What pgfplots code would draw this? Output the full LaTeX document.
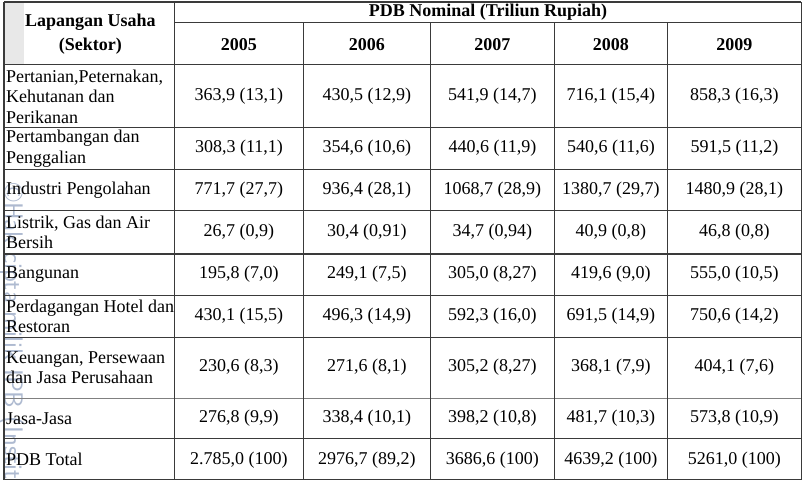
\documentclass[border=0pt]{standalone}
\usepackage{fontspec}
\setmainfont{Liberation Serif}
\usepackage{pgfplots}
\pgfplotsset{compat=1.18}
\definecolor{rule}{HTML}{3A3A3A}
\definecolor{wmark}{HTML}{AEBAD0}
\pgfplotsset{tline/.style={color=rule,line width=1.1pt,mark=none,forget plot}}

\begin{document}
\begin{tikzpicture}
\begin{axis}[
  width=802bp,height=480bp,scale only axis,
  xmin=0,xmax=802,ymin=0,ymax=480,y dir=reverse,
  hide axis,clip=false,
]
% header shade behind watermark
\fill[black!9] (axis cs:4,2) rectangle (axis cs:24,64);
% watermark, cut at the left edge
\begin{scope}
\clip (axis cs:0,0) rectangle (axis cs:40,480);
\node[rotate=-90,anchor=east,font=\sffamily\fontsize{26.5}{26.5}\selectfont,text=wmark,inner sep=0pt]
  at (axis cs:11,478) {\textcopyright Hak cipta milik IPB (Instit};
\end{scope}
% horizontal rules
\addplot[tline] coordinates {(4,2) (798,2)};
\addplot[tline] coordinates {(174,22) (798,22)};
\addplot[tline] coordinates {(4,64) (798,64)};
\addplot[tline] coordinates {(4,127) (798,127)};
\addplot[tline] coordinates {(4,169) (798,169)};
\addplot[tline] coordinates {(4,210) (798,210)};
\addplot[tline] coordinates {(4,253) (798,253)};
\addplot[tline] coordinates {(4,294) (798,294)};
\addplot[tline] coordinates {(4,336) (798,336)};
\addplot[tline,color=gray,line width=1.6pt] coordinates {(4,397) (798,397)};
\addplot[tline] coordinates {(4,437) (798,437)};
\addplot[tline] coordinates {(4,478) (798,478)};
% vertical rules
\addplot[tline] coordinates {(4,2) (4,478)};
\addplot[tline] coordinates {(174,2) (174,478)};
\addplot[tline] coordinates {(302,22) (302,478)};
\addplot[tline] coordinates {(429,22) (429,478)};
\addplot[tline] coordinates {(552,22) (552,478)};
\addplot[tline] coordinates {(665,22) (665,478)};
\addplot[tline] coordinates {(798,2) (798,478)};

\begin{scope}[every node/.style={font=\fontsize{18}{20.5}\selectfont,inner sep=0pt}]
% header
\node[font=\bfseries\fontsize{18}{24}\selectfont,align=center] at (axis cs:90,34) {Lapangan Usaha\\(Sektor)};
\node[font=\bfseries\fontsize{18}{20}\selectfont] at (axis cs:486,12) {PDB Nominal (Triliun Rupiah)};
\node[font=\bfseries\fontsize{18}{20}\selectfont] at (axis cs:238,44) {2005};
\node[font=\bfseries\fontsize{18}{20}\selectfont] at (axis cs:365.5,44) {2006};
\node[font=\bfseries\fontsize{18}{20}\selectfont] at (axis cs:490.5,44) {2007};
\node[font=\bfseries\fontsize{18}{20}\selectfont] at (axis cs:608.5,44) {2008};
\node[font=\bfseries\fontsize{18}{20}\selectfont] at (axis cs:731.5,44) {2009};
% sector names
\node[anchor=west,align=left] at (axis cs:6,96) {Pertanian,Peternakan,\\Kehutanan dan\\Perikanan};
\node[anchor=west,align=left] at (axis cs:6,148) {Pertambangan dan\\Penggalian};
\node[anchor=west,align=left] at (axis cs:6,189.5) {Industri Pengolahan};
\node[anchor=west,align=left] at (axis cs:6,231.5) {Listrik, Gas dan Air\\Bersih};
\node[anchor=west,align=left] at (axis cs:6,273.5) {Bangunan};
\node[anchor=west,align=left] at (axis cs:6,315) {Perdagangan Hotel dan\\Restoran};
\node[anchor=west,align=left] at (axis cs:6,366) {Keuangan, Persewaan\\dan Jasa Perusahaan};
\node[anchor=west,align=left] at (axis cs:6,417) {Jasa-Jasa};
\node[anchor=west,align=left] at (axis cs:6,458) {PDB Total};
% values
\foreach \y/\a/\b/\c/\d/\e in {
  96/{363,9 (13,1)}/{430,5 (12,9)}/{541,9 (14,7)}/{716,1 (15,4)}/{858,3 (16,3)},
  148/{308,3 (11,1)}/{354,6 (10,6)}/{440,6 (11,9)}/{540,6 (11,6)}/{591,5 (11,2)},
  189.5/{771,7 (27,7)}/{936,4 (28,1)}/{1068,7 (28,9)}/{1380,7 (29,7)}/{1480,9 (28,1)},
  231.5/{26,7 (0,9)}/{30,4 (0,91)}/{34,7 (0,94)}/{40,9 (0,8)}/{46,8 (0,8)},
  273.5/{195,8 (7,0)}/{249,1 (7,5)}/{305,0 (8,27)}/{419,6 (9,0)}/{555,0 (10,5)},
  315/{430,1 (15,5)}/{496,3 (14,9)}/{592,3 (16,0)}/{691,5 (14,9)}/{750,6 (14,2)},
  366/{230,6 (8,3)}/{271,6 (8,1)}/{305,2 (8,27)}/{368,1 (7,9)}/{404,1 (7,6)},
  417/{276,8 (9,9)}/{338,4 (10,1)}/{398,2 (10,8)}/{481,7 (10,3)}/{573,8 (10,9)},
  458/{2.785,0 (100)}/{2976,7 (89,2)}/{3686,6 (100)}/{4639,2 (100)}/{5261,0 (100)}}{
  \edef\row{%
    \noexpand\node at (axis cs:238,\y) {\a};
    \noexpand\node at (axis cs:365.5,\y) {\b};
    \noexpand\node at (axis cs:490.5,\y) {\c};
    \noexpand\node at (axis cs:608.5,\y) {\d};
    \noexpand\node at (axis cs:731.5,\y) {\e};}
  \row
}
\end{scope}
\end{axis}
\end{tikzpicture}
\end{document}
